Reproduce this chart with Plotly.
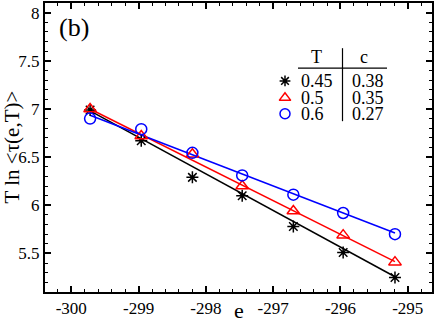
import plotly.graph_objects as go

FONT = "Liberation Serif"

# energies e of the points (same for every temperature)
e_vals = [-299.72, -298.96, -298.20, -297.46, -296.70, -295.96, -295.19]

# T ln <tau(e,T)> for each temperature
y_t045 = [6.99, 6.67, 6.29, 6.10, 5.78, 5.51, 5.25]
y_t05 = [7.00, 6.72, 6.53, 6.20, 5.94, 5.69, 5.41]
y_t06 = [6.90, 6.79, 6.545, 6.31, 6.11, 5.92, 5.70]

# legend table: temperature and slope c of the fitted line
temps = ["0.45", "0.5", "0.6"]
c_vals = [0.38, 0.35, 0.27]
# value of each fitted line at the first energy
fit_start = [6.98, 7.00, 6.935]

x_ticks = [-300, -299, -298, -297, -296, -295]
x_ticktext = ["-300", "-299", "-298", "-297", "-296", "-295"]
y_ticks = [5.5, 6, 6.5, 7, 7.5, 8]
y_ticktext = ["5.5", "6", "6.5", "7", "7.5", "8"]

colors = ["black", "red", "blue"]
symbols = ["asterisk-open", "triangle-up-open", "circle-open"]
sizes = [10, 11, 11]

X_RANGE = [-300.39, -294.64]
Y_RANGE = [5.1, 8.1]
# plot area in page pixels
L, R, T, B = 45, 432, 1, 292


def paper(x, y):
    return (x - L) / (R - L), (B - y) / (B - T)


def data(x, y):
    fx, fy = paper(x, y)
    return (X_RANGE[0] + fx * (X_RANGE[1] - X_RANGE[0]),
            Y_RANGE[0] + fy * (Y_RANGE[1] - Y_RANGE[0]))


fig = go.Figure()

series = [y_t045, y_t05, y_t06]
for ys, c, a, col in zip(series, c_vals, fit_start, colors):
    e0, e1 = e_vals[0], e_vals[-1]
    fig.add_scatter(x=[e0, e1], y=[a, a - c * (e1 - e0)], mode="lines",
                    line=dict(color=col, width=1.5), showlegend=False, hoverinfo="skip")
for ys, col, sym, sz in zip(series, colors, symbols, sizes):
    fig.add_scatter(x=e_vals, y=ys, mode="markers", showlegend=False,
                    marker=dict(symbol=sym, size=sz, color=col, line=dict(color=col, width=1.5)))

# legend table (positions in page pixels)
row_y = [79.5, 96.5, 112.5]
for ty, col, sym, sz in zip(row_y, colors, symbols, sizes):
    lx, ly = data(285, ty)
    fig.add_scatter(x=[lx], y=[ly], mode="markers", showlegend=False, hoverinfo="skip",
                    marker=dict(symbol=sym, size=sz - 1, color=col, line=dict(color=col, width=1.5)))

ann = [dict(x=316, y=55, text="T", xanchor="center"),
       dict(x=364, y=55, text="c", xanchor="center")]
for ty, tv, cv in zip(row_y, temps, c_vals):
    ann.append(dict(x=299, y=ty, text=tv, xanchor="left"))
    ann.append(dict(x=350, y=ty, text=f"{cv:.2f}", xanchor="left"))
for a in ann:
    a["x"], a["y"] = paper(a["x"], a["y"])
    fig.add_annotation(xref="paper", yref="paper", yanchor="middle", showarrow=False,
                       font=dict(family=FONT, size=18, color="black"), **a)

x0, y0 = paper(298, 66.5)
x1, _ = paper(387, 66.5)
fig.add_shape(type="line", xref="paper", yref="paper", x0=x0, x1=x1, y0=y0, y1=y0,
              line=dict(color="black", width=1.2))
vx, vy0 = paper(342.5, 46.5)
_, vy1 = paper(342.5, 120)
fig.add_shape(type="line", xref="paper", yref="paper", x0=vx, x1=vx, y0=vy0, y1=vy1,
              line=dict(color="black", width=1.2))

bx, by = paper(74, 26)
fig.add_annotation(x=bx, y=by, xref="paper", yref="paper", text="(b)", showarrow=False,
                   xanchor="center", yanchor="middle",
                   font=dict(family=FONT, size=26, color="black"))
tx, ty = paper(11, 146.5)
fig.add_annotation(x=tx, y=ty, xref="paper", yref="paper", text="T ln <τ(e,T)>", textangle=-90,
                   showarrow=False, xanchor="center", yanchor="middle",
                   font=dict(family=FONT, size=21, color="black"))
ex, ey = paper(239, 311)
fig.add_annotation(x=ex, y=ey, xref="paper", yref="paper", text="e", showarrow=False,
                   xanchor="center", yanchor="middle",
                   font=dict(family=FONT, size=22, color="black"))

axis_common = dict(showline=True, linecolor="black", linewidth=2, mirror="allticks",
                   ticks="inside", ticklen=6, tickwidth=1.5, tickcolor="black",
                   showgrid=False, zeroline=False)

fig.update_layout(
    width=436, height=322,
    font=dict(family=FONT, size=17, color="black"),
    margin=dict(l=L, r=436 - R, t=T, b=322 - B),
    paper_bgcolor="white", plot_bgcolor="white",
    xaxis=dict(range=X_RANGE, tickvals=x_ticks, ticktext=x_ticktext,
               minor=dict(dtick=0.2, tick0=-300, ticks="inside", ticklen=3, tickwidth=1.2, tickcolor="black"),
               **axis_common),
    yaxis=dict(range=Y_RANGE, tickvals=y_ticks, ticktext=y_ticktext,
               minor=dict(dtick=0.1, tick0=5, ticks="inside", ticklen=3, tickwidth=1.2, tickcolor="black"),
               **axis_common),
)
fig.update_xaxes(tickfont=dict(family=FONT, size=17, color="black"))
fig.update_yaxes(tickfont=dict(family=FONT, size=17, color="black"))

fig.write_html("out.html", config={"displayModeBar": False},
               post_script="document.body.style.margin='0px';")
